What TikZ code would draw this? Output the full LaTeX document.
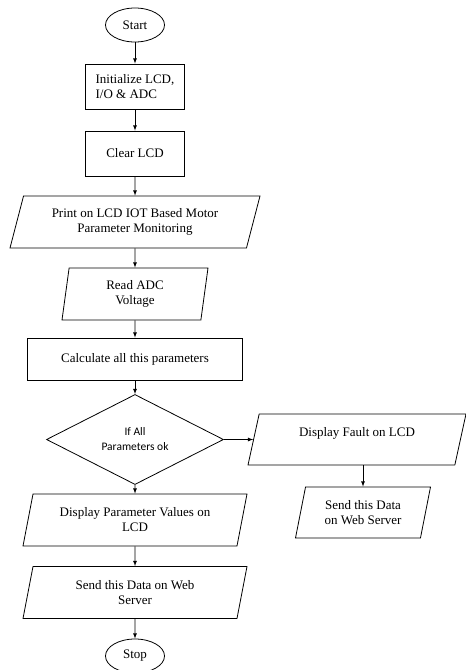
\documentclass[tikz,border=0pt]{standalone}
\usepackage{fontspec}
\setmainfont{Liberation Serif}
\newfontfamily\calibri{Carlito}
\usetikzlibrary{shapes.geometric}

\tikzset{
  every node/.style={font=\fontsize{13}{15}\selectfont, line width=0.8pt},
  term/.style={draw, ellipse, minimum width=59pt, minimum height=34pt, inner sep=0pt},
  proc/.style={draw, rectangle, align=center},
  io/.style={draw, trapezium, trapezium stretches body, align=center, minimum height=52pt},
  test/.style={draw, diamond, minimum width=177pt, minimum height=78pt, inner sep=0pt,
    align=center, font=\calibri\fontsize{11.5}{15}\selectfont},
}

\begin{document}
\begin{tikzpicture}[x=1pt,y=-1pt,line width=0.8pt]

\useasboundingbox (0,0) rectangle (466,670);

\node[term]
(St)
at (135,25)
{Start};

\node[proc,align=left,minimum width=99pt,minimum height=45pt]
(I)
at (135,86.5)
{Initialize LCD,\\I/O \& ADC};

\node[proc,minimum width=99pt,minimum height=45pt]
(C)
at (135,153.5)
{Clear LCD};

\node[io,trapezium left angle=68,trapezium right angle=112,minimum width=250pt]
(P)
at (135,222)
{Print on LCD IOT Based Motor\\Parameter Monitoring};

\node[io,trapezium left angle=78,trapezium right angle=102,minimum width=146pt]
(R)
at (135,294)
{Read ADC\\Voltage};

\node[proc,minimum width=215pt,minimum height=42pt]
(Ca)
at (135,359)
{Calculate all this parameters};

\node[test]
(D)
at (135,439.5)
{If All\\Parameters ok};

\node[io,trapezium left angle=70,trapezium right angle=110,minimum width=218pt,minimum height=51pt]
(F)
at (357,439.5)
{Display Fault on LCD\\~};

\node[io,trapezium left angle=72,trapezium right angle=108,minimum width=135pt,minimum height=51pt]
(W2)
at (363,512.5)
{Send this Data\\on Web Server};

\node[io,trapezium left angle=72,trapezium right angle=108,minimum width=224pt]
(V)
at (135,520)
{Display Parameter Values on\\LCD};

\node[io,trapezium left angle=72,trapezium right angle=108,minimum width=224pt]
(W)
at (135,592.5)
{Send this Data on Web\\Server};

\node[term]
(E)
at (135,656)
{Stop};

\draw[-latex] (St) -- (I);
\draw[-latex] (I) -- (C);
\draw[-latex] (C) -- (P);
\draw[-latex] (P) -- (R);
\draw[-latex] (R) -- (Ca);
\draw[-latex] (Ca) -- (D);
\draw[-latex] (D) -- (F);
\draw[-latex] (F.south -| W2.north) -- (W2.north);
\draw[-latex] (D) -- (V);
\draw[-latex] (V) -- (W);
\draw[-latex] (W) -- (E);

\end{tikzpicture}
\end{document}
